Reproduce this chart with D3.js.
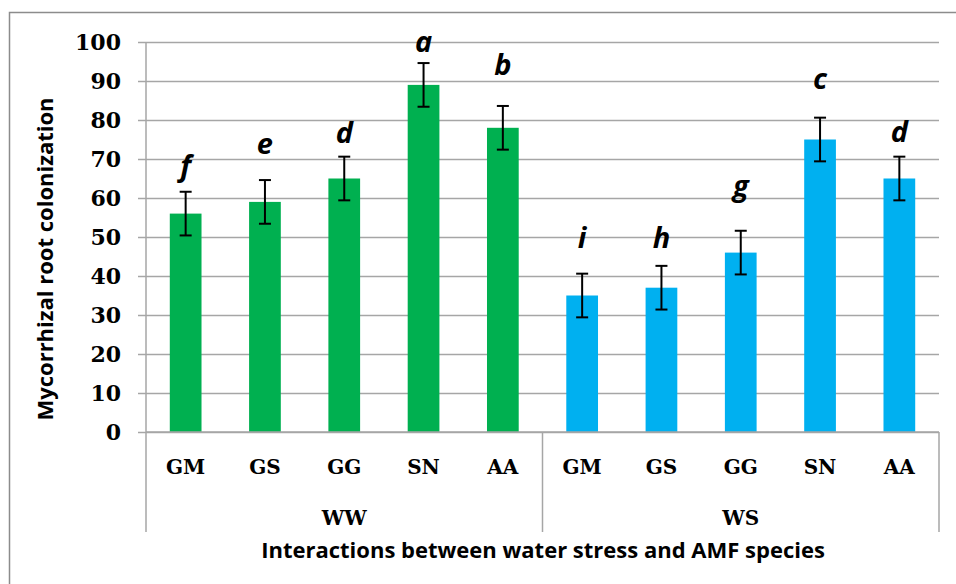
<!DOCTYPE html>
<html>
<head>
<meta charset="utf-8">
<script src="https://cdn.jsdelivr.net/npm/d3@7"></script>
<style>
  body { margin: 0; background: #fff; }
  svg { display: block; }
</style>
</head>
<body>
<div class="chart"></div>
<script>
// data
var groups = ['WW', 'WS'];
var species = ['GM', 'GS', 'GG', 'SN', 'AA'];
var wwValues = [56, 59, 65, 89, 78];
var wsValues = [35, 37, 46, 75, 65];
var wwErrors = [5.6, 5.6, 5.6, 5.6, 5.6];
var wsErrors = [5.6, 5.6, 5.6, 5.6, 5.6];
var wwLetters = ['f', 'e', 'd', 'a', 'b'];
var wsLetters = ['i', 'h', 'g', 'c', 'd'];
// where each letter's baseline sits, in axis units
var wwLetterAt = [65.6, 71.3, 74.2, 97.5, 91.5];
var wsLetterAt = [47.2, 47.2, 60.5, 87.9, 74.4];
var yTicks = [0, 10, 20, 30, 40, 50, 60, 70, 80, 90, 100];
var groupColors = ['#00b050', '#00b0f0'];

var svgWidth = 956, svgHeight = 584;
var plotLeft = 146, plotRight = 939, plotTop = 42, plotBottom = 432, catBottom = 532;

function createSvg(parent, height, width) {
  return d3.select(parent).append('svg').attr('height', height).attr('width', width);
}

var svg = createSvg('.chart', svgHeight, svgWidth);

// flat table built from the arrays
var rows = [];
groups.forEach(function (g, gi) {
  var vals = gi === 0 ? wwValues : wsValues;
  var errs = gi === 0 ? wwErrors : wsErrors;
  var lets = gi === 0 ? wwLetters : wsLetters;
  var at = gi === 0 ? wwLetterAt : wsLetterAt;
  species.forEach(function (s, si) {
    rows.push({ key: g + '-' + s, group: gi, name: s, value: vals[si], err: errs[si], letter: lets[si], letterAt: at[si] });
  });
});

var x = d3.scaleBand()
  .domain(rows.map(function (d) { return d.key; }))
  .range([plotLeft, plotRight])
  .paddingInner(0.6)
  .paddingOuter(0.3);

var y = d3.scaleLinear().domain([0, 100]).range([plotBottom, plotTop]);

// outer frame
svg.append('path')
  .attr('d', 'M9.5,' + svgHeight + 'V12.5H' + svgWidth)
  .attr('fill', 'none')
  .attr('stroke', '#8c8c8c')
  .attr('stroke-width', 1.5);

// gridlines + y axis
var yAxis = d3.axisLeft(y)
  .tickValues(yTicks)
  .tickSize(-(plotRight - plotLeft))
  .tickPadding(25)
  .tickFormat(d3.format('d'));

var yg = svg.append('g')
  .attr('transform', 'translate(' + plotLeft + ',0)')
  .call(yAxis);
yg.select('.domain').remove();
yg.selectAll('.tick line')
  .attr('x1', -8)
  .attr('stroke', '#a6a6a6')
  .attr('stroke-width', 1.5);
yg.selectAll('.tick text')
  .attr('fill', '#000')
  .style('font-family', '"DejaVu Serif", serif')
  .style('font-weight', 'bold')
  .style('font-size', '22px');

// y axis line, running down through the category rows
svg.append('line')
  .attr('x1', plotLeft).attr('x2', plotLeft)
  .attr('y1', plotTop).attr('y2', catBottom)
  .attr('stroke', '#a6a6a6').attr('stroke-width', 1.5);

// group separators
var sepX = [plotLeft, x(rows[5].key) - x.step() * x.paddingInner() / 2, plotRight];
sepX.slice(1).forEach(function (sx) {
  svg.append('line')
    .attr('x1', sx).attr('x2', sx)
    .attr('y1', plotBottom).attr('y2', catBottom)
    .attr('stroke', '#a6a6a6').attr('stroke-width', 1.5);
});

// bars
svg.selectAll('rect.bar')
  .data(rows)
  .enter()
  .append('rect')
  .attr('class', 'bar')
  .attr('x', function (d) { return x(d.key); })
  .attr('width', x.bandwidth())
  .attr('y', function (d) { return y(d.value); })
  .attr('height', function (d) { return y(0) - y(d.value); })
  .attr('fill', function (d) { return groupColors[d.group]; });

// x axis baseline drawn over bars
svg.append('line')
  .attr('x1', plotLeft).attr('x2', plotRight)
  .attr('y1', plotBottom).attr('y2', plotBottom)
  .attr('stroke', '#a6a6a6').attr('stroke-width', 1.5);

// error bars
function cx(d) { return x(d.key) + x.bandwidth() / 2; }
var eb = svg.selectAll('g.err')
  .data(rows)
  .enter()
  .append('g')
  .attr('class', 'err')
  .attr('stroke', '#000')
  .attr('stroke-width', 2);
eb.append('line')
  .attr('x1', cx).attr('x2', cx)
  .attr('y1', function (d) { return y(d.value + d.err); })
  .attr('y2', function (d) { return y(d.value - d.err); });
eb.append('line')
  .attr('x1', function (d) { return cx(d) - 6; }).attr('x2', function (d) { return cx(d) + 6; })
  .attr('y1', function (d) { return y(d.value + d.err); })
  .attr('y2', function (d) { return y(d.value + d.err); });
eb.append('line')
  .attr('x1', function (d) { return cx(d) - 6; }).attr('x2', function (d) { return cx(d) + 6; })
  .attr('y1', function (d) { return y(d.value - d.err); })
  .attr('y2', function (d) { return y(d.value - d.err); });

// significance letters
svg.selectAll('text.letter')
  .data(rows)
  .enter()
  .append('text')
  .attr('class', 'letter')
  .attr('x', cx)
  .attr('y', function (d) { return y(d.letterAt); })
  .attr('text-anchor', 'middle')
  .style('font-family', '"Open Sans", sans-serif')
  .style('font-weight', 'bold')
  .style('font-style', 'italic')
  .style('font-size', '29px')
  .text(function (d) { return d.letter; });

// category names
svg.selectAll('text.cat')
  .data(rows)
  .enter()
  .append('text')
  .attr('class', 'cat')
  .attr('x', cx)
  .attr('y', 474)
  .attr('text-anchor', 'middle')
  .style('font-family', '"DejaVu Serif", serif')
  .style('font-weight', 'bold')
  .style('font-size', '20px')
  .text(function (d) { return d.name; });

// group names
groups.forEach(function (g, gi) {
  svg.append('text')
    .attr('x', (sepX[gi] + sepX[gi + 1]) / 2)
    .attr('y', 525)
    .attr('text-anchor', 'middle')
    .style('font-family', '"DejaVu Serif", serif')
    .style('font-weight', 'bold')
    .style('font-size', '20px')
    .text(g);
});

// axis titles
svg.append('text')
  .attr('x', 543)
  .attr('y', 558)
  .attr('text-anchor', 'middle')
  .style('font-family', '"Open Sans", sans-serif')
  .style('font-weight', 'bold')
  .style('font-size', '22px')
  .text('Interactions between water stress and AMF species');

svg.append('text')
  .attr('transform', 'translate(53,259) rotate(-90)')
  .attr('text-anchor', 'middle')
  .style('font-family', '"Open Sans", sans-serif')
  .style('font-weight', 'bold')
  .style('font-size', '22px')
  .text('Mycorrhizal root colonization');
</script>
</body>
</html>
